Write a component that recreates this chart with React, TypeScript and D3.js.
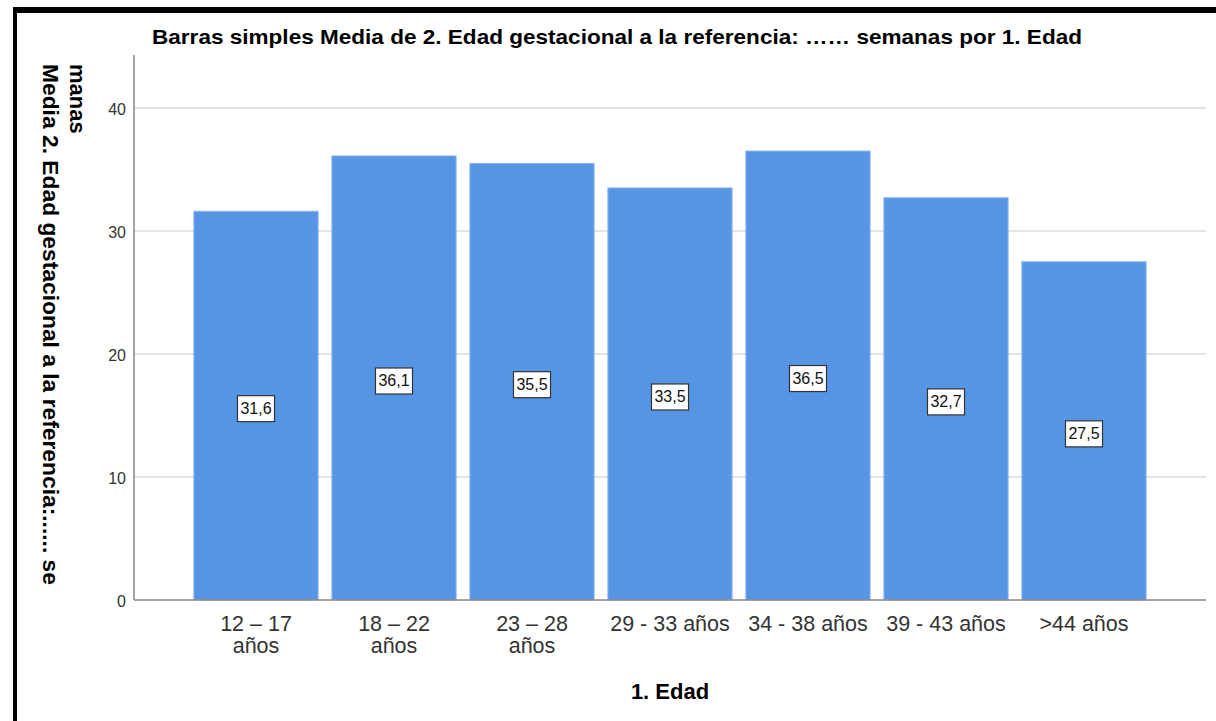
import React from "react";
import * as d3 from "d3";

const categories = ["12 – 17 años", "18 – 22 años", "23 – 28 años", "29 - 33 años", "34 - 38 años", "39 - 43 años", ">44 años"];
const labelLines = [["12 – 17", "años"], ["18 – 22", "años"], ["23 – 28", "años"], ["29 - 33 años"], ["34 - 38 años"], ["39 - 43 años"], [">44 años"]];
const values = [31.6, 36.1, 35.5, 33.5, 36.5, 32.7, 27.5];
const valueLabels = ["31,6", "36,1", "35,5", "33,5", "36,5", "32,7", "27,5"];
const yTicks = [0, 10, 20, 30, 40];

const W = 1216, H = 721;
const plotL = 134, plotR = 1206, plotT = 55, plotB = 600;
const FONT = "'Liberation Sans', Arial, sans-serif";

export default function App() {
  const y = d3.scaleLinear().domain([0, 40]).range([plotB, 108]);
  const x = d3.scaleBand<string>().domain(categories).range([187, 1153]).paddingInner(0.1).paddingOuter(0.05);
  return (
    <svg width={W} height={H} style={{ position: "absolute", left: 0, top: 0, background: "#fff" }} fontFamily={FONT}>
      <rect x={0} y={0} width={W} height={H} fill="#fff" />
      {/* black frame */}
      <rect x={13} y={7} width={W - 13} height={6} fill="#000" />
      <rect x={13} y={7} width={4} height={H - 7} fill="#000" />
      {/* grid */}
      {yTicks.filter(t => t > 0).map(t => (
        <line key={t} x1={plotL} x2={plotR} y1={y(t)} y2={y(t)} stroke="#c8c8c8" strokeWidth={1} />
      ))}
      {/* bars */}
      {values.map((v, i) => (
        <rect key={i} x={x(categories[i])!} y={y(v)} width={x.bandwidth()} height={plotB - y(v)} fill="#5694e4" stroke="#8ab4ec" strokeWidth={1} />
      ))}
      {/* axes */}
      <line x1={plotL} x2={plotL} y1={plotT} y2={plotB} stroke="#888" strokeWidth={1.5} />
      <line x1={plotL} x2={plotR} y1={plotB} y2={plotB} stroke="#888" strokeWidth={1.5} />
      {yTicks.map(t => (
        <text key={t} x={126} y={y(t) + 6.5} textAnchor="end" fontSize={16} fill="#333">{t}</text>
      ))}
      {/* value labels */}
      {values.map((v, i) => {
        const cx = x(categories[i])! + x.bandwidth() / 2;
        const cy = y(v / 2) + 3;
        return (
          <g key={i}>
            <rect x={cx - 18.5} y={cy - 13} width={37} height={26} fill="#fff" stroke="#333" strokeWidth={1.2} />
            <text x={cx} y={cy + 5.5} textAnchor="middle" fontSize={16} fill="#111">{valueLabels[i]}</text>
          </g>
        );
      })}
      {/* x labels */}
      {labelLines.map((lines, i) => {
        const cx = x(categories[i])! + x.bandwidth() / 2;
        return lines.map((l, j) => (
          <text key={i + "-" + j} x={cx} y={631 + j * 22} textAnchor="middle" fontSize={21.5} fill="#333">{l}</text>
        ));
      })}
      {/* titles */}
      <text x={617} y={44} textAnchor="middle" fontSize={20.5} fontWeight="bold" fill="#000" textLength={930} lengthAdjust="spacingAndGlyphs">
        Barras simples Media de 2. Edad gestacional a la referencia: …… semanas por 1. Edad
      </text>
      <text x={670} y={699} textAnchor="middle" fontSize={22} fontWeight="bold" fill="#000">1. Edad</text>
      <text transform="translate(43,64) rotate(90)" fontSize={22} fontWeight="bold" fill="#000" textLength={521} lengthAdjust="spacingAndGlyphs">
        Media 2. Edad gestacional a la referencia:...... se
      </text>
      <text transform="translate(70,64) rotate(90)" fontSize={22} fontWeight="bold" fill="#000">manas</text>
    </svg>
  );
}
